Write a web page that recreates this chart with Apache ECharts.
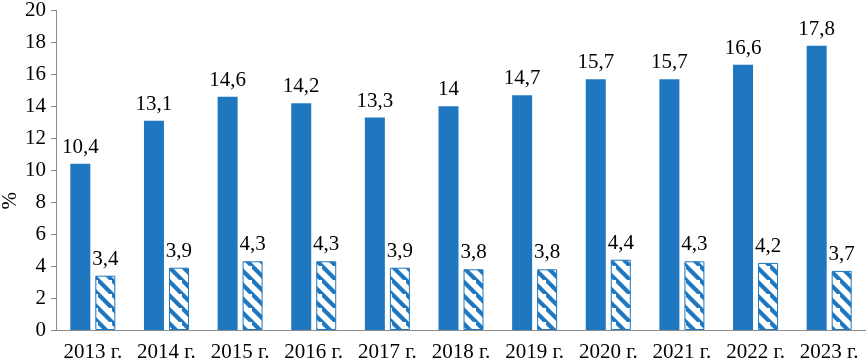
<!DOCTYPE html>
<html>
<head>
<meta charset="utf-8">
<script src="https://cdn.jsdelivr.net/npm/echarts@6/dist/echarts.min.js"></script>
<style>
  html, body { margin: 0; padding: 0; background: #fff; }
  #chart { width: 866px; height: 363px; }
</style>
</head>
<body>
<div id="chart"></div>
<script>
const years = ['2013 г.', '2014 г.', '2015 г.', '2016 г.', '2017 г.', '2018 г.',
  '2019 г.', '2020 г.', '2021 г.', '2022 г.', '2023 г.'];
const solidValues = [10.4, 13.1, 14.6, 14.2, 13.3, 14, 14.7, 15.7, 15.7, 16.6, 17.8];
const hatchedValues = [3.4, 3.9, 4.3, 4.3, 3.9, 3.8, 3.8, 4.4, 4.3, 4.2, 3.7];

const blue = '#1f78bf';
const font = '"Liberation Serif", "Times New Roman", serif';

// diagonal hatch for the second series
function makeHatch() {
  const size = 14;
  const c = document.createElement('canvas');
  c.width = size;
  c.height = size;
  const ctx = c.getContext('2d');
  ctx.fillStyle = '#fff';
  ctx.fillRect(0, 0, size, size);
  ctx.strokeStyle = blue;
  ctx.lineWidth = 4.2;
  ctx.beginPath();
  ctx.moveTo(-size, 0); ctx.lineTo(size * 2, size * 3);
  ctx.moveTo(-size, -size); ctx.lineTo(size * 2, size * 2);
  ctx.moveTo(-size * 2, -size); ctx.lineTo(size, size * 2);
  ctx.stroke();
  return c;
}

const fmt = (p) => String(p.value).replace('.', ',');

const chart = echarts.init(document.getElementById('chart'), null, { renderer: 'canvas' });
chart.setOption({
  animation: false,
  textStyle: { fontFamily: font },
  grid: { left: 56, right: 0, top: 7, bottom: 33 },
  graphic: [{
    type: 'text',
    left: 0,
    top: 192,
    rotation: Math.PI / 2,
    style: { text: '%', fontSize: 21, fontFamily: font, fill: '#000' },
  }],
  xAxis: {
    type: 'category',
    data: years,
    axisTick: { show: false },
    axisLine: { lineStyle: { color: '#8c8c8c', width: 1 } },
    axisLabel: { color: '#000', fontSize: 21, fontFamily: font, margin: 12, interval: 0 },
  },
  yAxis: {
    type: 'value',
    min: 0,
    max: 20,
    interval: 2,
    splitLine: { show: false },
    axisLine: { show: true, lineStyle: { color: '#8c8c8c', width: 1 } },
    axisTick: { show: true, length: 5, lineStyle: { color: '#8c8c8c' } },
    axisLabel: { color: '#000', fontSize: 21, fontFamily: font, margin: 10 },
  },
  series: [
    {
      type: 'bar',
      data: solidValues,
      barWidth: 20,
      barGap: '25%',
      itemStyle: { color: blue },
      label: {
        show: true, position: 'top', distance: 6, color: '#000',
        fontSize: 21, fontFamily: font, formatter: fmt,
      },
    },
    {
      type: 'bar',
      data: hatchedValues,
      barWidth: 20,
      itemStyle: {
        color: { image: makeHatch(), repeat: 'repeat' },
        borderColor: blue,
        borderWidth: 1,
      },
      label: {
        show: true, position: 'top', distance: 6, color: '#000',
        fontSize: 21, fontFamily: font, formatter: fmt,
      },
    },
  ],
});
</script>
</body>
</html>
